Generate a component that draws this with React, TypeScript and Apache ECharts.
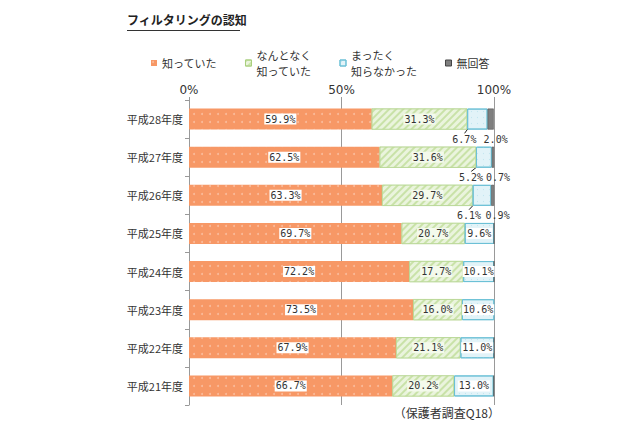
import React, { useEffect, useRef } from "react";
import * as echarts from "echarts";

const categories = ["平成28年度", "平成27年度", "平成26年度", "平成25年度", "平成24年度", "平成23年度", "平成22年度", "平成21年度"];
const knew = [59.9, 62.5, 63.3, 69.7, 72.2, 73.5, 67.9, 66.7];
const somewhat = [31.3, 31.6, 29.7, 20.7, 17.7, 16.0, 21.1, 20.2];
const notAtAll = [6.7, 5.2, 6.1, 9.6, 10.1, 10.6, 11.0, 13.0];
const noAnswer = [2.0, 0.7, 0.9, 0, 0, 0, 0, 0];
const xTicks = ["0%", "50%", "100%"];

const MONO = "'DejaVu Sans Mono', 'Noto Sans CJK JP', monospace";
const JP = "'Noto Sans CJK JP', sans-serif";

export default function App() {
  const ref = useRef<HTMLDivElement>(null);
  useEffect(() => {
    if (!ref.current) return;
    const chart = echarts.init(ref.current, null, { renderer: "svg" });
    const baseLabel = {
      show: true,
      position: "inside",
      fontFamily: MONO,
      fontSize: 10,
      color: "#333",
      backgroundColor: "#fff",
      padding: [1, 1, 0, 1],
      formatter: (p: any) => (p.value > 0 ? p.value.toFixed(1) + "%" : ""),
    };
    chart.setOption({
      animation: false,
      backgroundColor: "#fff",
      textStyle: { fontFamily: JP },
      grid: { left: 181, right: 154, top: 92, bottom: 29 },
      legend: {
        top: 34,
        left: 138,
        itemGap: 28,
        icon: "rect",
        itemWidth: 6,
        itemHeight: 6,
        itemStyle: { borderWidth: 1 },
        textStyle: { fontSize: 11, color: "#333", fontFamily: JP, lineHeight: 16 },
        data: ["知っていた", "なんとなく\n知っていた", "まったく\n知らなかった", "無回答"],
      },
      xAxis: {
        type: "value",
        position: "top",
        min: 0,
        max: 100,
        interval: 50,
        axisLine: { show: false },
        axisTick: { show: true, length: 3, lineStyle: { color: "#999" } },
        axisLabel: {
          fontSize: 12,
          margin: 4,
          color: "#333",
          fontFamily: "'DejaVu Sans', sans-serif",
          formatter: (v: number) => xTicks[v / 50],
        },
        splitLine: { show: true, lineStyle: { color: "#999", width: 1 } },
      },
      yAxis: {
        type: "category",
        inverse: true,
        data: categories,
        axisLine: { show: true, lineStyle: { color: "#999" } },
        axisTick: { show: true, length: 4, lineStyle: { color: "#999" } },
        axisLabel: { fontSize: 11, color: "#333", fontFamily: JP, margin: 6 },
      },
      series: [
        {
          name: "知っていた",
          type: "bar",
          stack: "s",
          barWidth: 21,
          data: knew,
          itemStyle: {
            color: "#F79866",
            decal: {
              symbol: "circle",
              symbolSize: 0.5,
              color: "rgba(255,255,255,0.35)",
              dashArrayX: [[4, 4]],
              dashArrayY: [4, 4],
            },
          },
          label: baseLabel,
        },
        {
          name: "なんとなく\n知っていた",
          type: "bar",
          stack: "s",
          data: somewhat,
          itemStyle: {
            color: "#EAF4DD",
            borderColor: "#A9CF7E",
            borderWidth: 0.5,
            decal: {
              symbol: "rect",
              color: "#C9E2A8",
              rotation: -Math.PI / 4,
              dashArrayX: [1, 0],
              dashArrayY: [1.5, 3],
            },
          },
          label: { ...baseLabel, backgroundColor: "#F4FAEC" },
        },
        {
          name: "まったく\n知らなかった",
          type: "bar",
          stack: "s",
          data: notAtAll,
          itemStyle: {
            color: "#E2F3F8",
            borderColor: "#6CC0D6",
            borderWidth: 1,
            decal: {
              symbol: "circle",
              symbolSize: 0.4,
              color: "#C4E6F0",
              dashArrayX: [[3, 3]],
              dashArrayY: [3, 3],
            },
          },
          label: { ...baseLabel, backgroundColor: "#fff" },
          labelLayout: (p: any) => (p.dataIndex < 3 ? { dx: -13, dy: 20 } : {}),
          labelLine: { show: true, lineStyle: { color: "#222", width: 1 } },
        },
        {
          name: "無回答",
          type: "bar",
          stack: "s",
          data: noAnswer,
          itemStyle: { color: "#7F7F7F", borderColor: "#444", borderWidth: 0.5 },
          label: { ...baseLabel, backgroundColor: "transparent" },
          labelLayout: (p: any) => (p.dataIndex < 3 ? { dx: 5, dy: 20 } : {}),
        },
      ],
      color: ["#F79866", "#C9E2A8", "#9BD3E3", "#8C8C8C"],
      graphic: [
        {
          type: "text",
          left: 119,
          top: 5,
          style: { text: "フィルタリングの認知", font: `bold 12px ${JP}`, fill: "#222" },
        },
        {
          type: "rect",
          left: 119,
          top: 22,
          shape: { width: 113, height: 1 },
          style: { fill: "#333" },
        },
        {
          type: "text",
          right: 148,
          top: 398,
          style: { text: "（保護者調査Q18）", font: `12px ${JP}`, fill: "#333" },
        },
      ],
    });
    return () => chart.dispose();
  }, []);
  return <div ref={ref} style={{ width: 640, height: 426 }} />;
}
